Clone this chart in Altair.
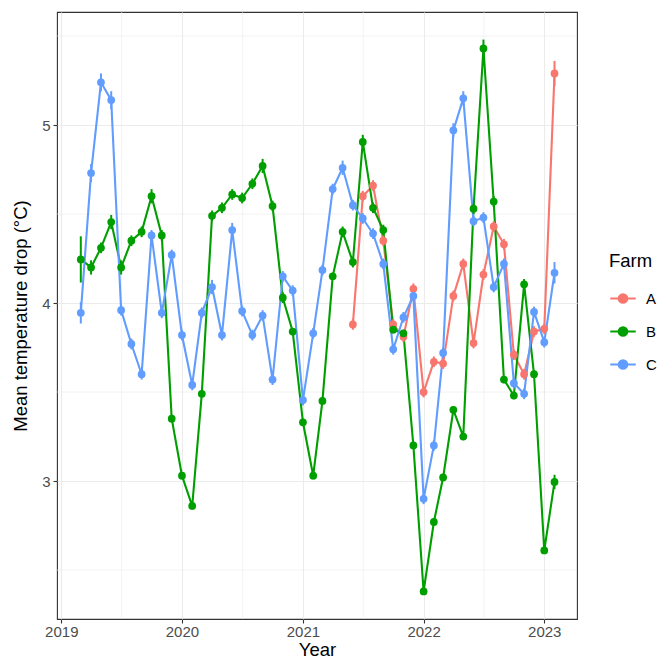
import altair as alt
import pandas as pd

# ---------------- data ----------------
months = pd.date_range("2019-03-01", "2023-02-01", freq="MS")
farm_a_start = "2021-06-01"

farm_a = [3.88, 4.60, 4.66, 4.35, 3.88, 3.81, 4.08,
          3.50, 3.67, 3.66, 4.04, 4.22, 3.775, 4.16, 4.43, 4.33, 3.71, 3.60, 3.84,
          3.855, 5.29]
err_a = [0.03, 0.03, 0.03, 0.03, 0.03, 0.03, 0.03,
         0.03, 0.03, 0.03, 0.03, 0.03, 0.03, 0.03, 0.03, 0.03, 0.03, 0.03, 0.03,
         0.03, 0.07]

farm_b = [4.245, 4.20, 4.31, 4.455, 4.20, 4.35, 4.40, 4.60, 4.38, 3.35,
          3.03, 2.86, 3.49, 4.49, 4.535, 4.61, 4.59, 4.67, 4.77, 4.545, 4.03, 3.84,
          3.33, 3.03, 3.45, 4.15, 4.40, 4.23, 4.905, 4.535, 4.41, 3.85, 3.83, 3.20,
          2.38, 2.77, 3.02, 3.40, 3.25, 4.53, 5.43, 4.57, 3.57, 3.48, 4.105, 3.60,
          2.61, 2.995]
err_b = [0.13, 0.04, 0.03, 0.04, 0.04, 0.03, 0.03, 0.04, 0.03, 0.02,
         0.02, 0.02, 0.02, 0.03, 0.03, 0.03, 0.03, 0.03, 0.04, 0.03, 0.03, 0.02,
         0.02, 0.02, 0.02, 0.02, 0.03, 0.03, 0.04, 0.03, 0.03, 0.02, 0.02, 0.02,
         0.02, 0.02, 0.02, 0.02, 0.02, 0.03, 0.05, 0.03, 0.02, 0.02, 0.03, 0.02,
         0.02, 0.04]

farm_c = [3.945, 4.73, 5.24, 5.14, 3.96, 3.77, 3.60, 4.38, 3.945, 4.27,
          3.82, 3.54, 3.945, 4.09, 3.82, 4.41, 3.955, 3.82, 3.93, 3.57, 4.15, 4.07,
          3.455, 3.83, 4.185, 4.64, 4.76, 4.55, 4.475, 4.39, 4.22, 3.74, 3.92, 4.04,
          2.90, 3.20, 3.72, 4.97, 5.15, 4.46, 4.48, 4.09, 4.22, 3.55, 3.49, 3.95,
          3.78, 4.17]
err_c = [0.06, 0.05, 0.05, 0.05, 0.03, 0.03, 0.03, 0.03, 0.03, 0.03,
         0.03, 0.03, 0.03, 0.04, 0.03, 0.04, 0.03, 0.03, 0.03, 0.03, 0.03, 0.03,
         0.03, 0.03, 0.03, 0.03, 0.04, 0.03, 0.03, 0.03, 0.03, 0.03, 0.03, 0.03,
         0.03, 0.03, 0.03, 0.04, 0.04, 0.03, 0.03, 0.03, 0.03, 0.03, 0.03, 0.03,
         0.03, 0.06]

farms = ["A", "B", "C"]
colors = ["#F8766D", "#009F00", "#619CFF"]

y_major = [3, 4, 5]
y_minor = [2.5, 3.5, 4.5, 5.5]
x_major = ["2019-01-01", "2020-01-01", "2021-01-01", "2022-01-01", "2023-01-01"]
x_minor = ["2019-07-02T12:00:00", "2020-07-02T12:00:00", "2021-07-02T12:00:00", "2022-07-02T12:00:00"]
x_domain = ["2018-12-19", "2023-04-10"]
y_domain = [2.225, 5.635]

# ---------------- table ----------------
rows = []
a_months = months[months >= pd.Timestamp(farm_a_start)]
for d, v, e in zip(a_months, farm_a, err_a):
    rows.append({"date": d, "farm": "A", "v": v, "lo": v - e, "hi": v + e})
for d, v, e in zip(months, farm_b, err_b):
    rows.append({"date": d, "farm": "B", "v": v, "lo": v - e, "hi": v + e})
for d, v, e in zip(months, farm_c, err_c):
    rows.append({"date": d, "farm": "C", "v": v, "lo": v - e, "hi": v + e})
df = pd.DataFrame(rows)
df["date"] = df["date"].dt.strftime("%Y-%m-%d")

FONT = "Liberation Sans"
GRID = "#EBEBEB"

x_scale = alt.Scale(domain=x_domain, nice=False)
y_scale = alt.Scale(domain=y_domain, nice=False, zero=False)

legend_path = ("M-1,0L1,0M-0.33,0A0.33,0.33,0,1,1,0.33,0"
               "A0.33,0.33,0,1,1,-0.33,0Z")
color = alt.Color(
    "farm:N",
    scale=alt.Scale(domain=farms, range=colors),
    legend=alt.Legend(
        title="Farm", orient="none", legendX=552, legendY=240,
        symbolType=legend_path, symbolSize=650, symbolStrokeWidth=2.2,
        titleFontSize=18.5, titleFont=FONT, titleFontWeight="normal", titleColor="#000000",
        labelFontSize=15, labelFont=FONT, labelColor="#000000",
        rowPadding=10, titlePadding=14, labelOffset=9,
    ),
)

x_enc = alt.X(
    "date:T", scale=x_scale, title="Year",
    axis=alt.Axis(values=x_major, format="%Y", labelFlush=False),
)
y_enc = alt.Y(
    "v:Q", scale=y_scale, title="Mean temperature drop (°C)",
    axis=alt.Axis(values=y_major, format="d"),
)

minor_y = alt.Chart(pd.DataFrame({"v": y_minor})).mark_rule(
    color=GRID, strokeWidth=0.6
).encode(y=alt.Y("v:Q", scale=y_scale))
minor_x = alt.Chart(pd.DataFrame({"date": x_minor})).mark_rule(
    color=GRID, strokeWidth=0.6
).encode(x=alt.X("date:T", scale=x_scale))

base = alt.Chart(df)
errs = base.mark_rule(strokeWidth=2).encode(
    x=x_enc, y=alt.Y("lo:Q", scale=y_scale), y2="hi:Q", color=color
)
lines = base.mark_line(strokeWidth=2.1).encode(x=x_enc, y=y_enc, color=color)
points = base.mark_circle(size=60, opacity=1).encode(x=x_enc, y=y_enc, color=color)

chart = alt.layer(minor_y, minor_x, lines, errs, points).properties(
    width=520, height=607,
    padding={"left": 3, "top": 3, "right": 0, "bottom": 0},
).configure_view(
    stroke="#333333", strokeWidth=1.1
).configure_axis(
    grid=True, gridColor=GRID, gridWidth=1.1,
    domain=False, tickColor="#333333", tickSize=4, tickWidth=1.1,
    labelFont=FONT, labelFontSize=15, labelColor="#4D4D4D",
    titleFont=FONT, titleFontSize=18.5, titleFontWeight="normal", titleColor="#000000",
).configure_axisX(
    labelPadding=1, titlePadding=1
).configure_axisY(
    labelPadding=3, titlePadding=11
)

chart.save("out.html", embed_options={"renderer": "svg", "actions": False})
